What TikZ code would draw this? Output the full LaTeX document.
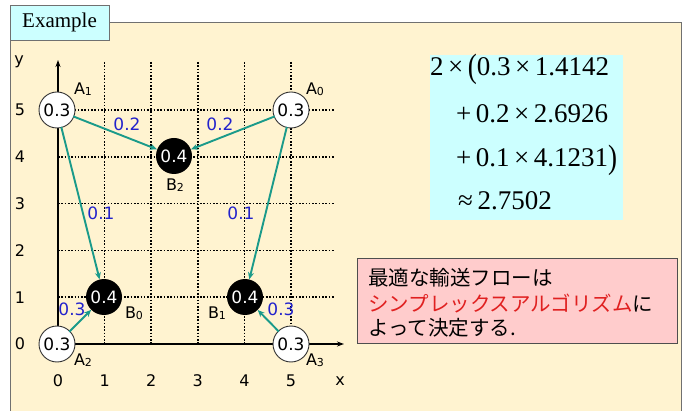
\documentclass[tikz,border=0pt]{standalone}
\usepackage{fontspec}
\setmainfont{DejaVu Sans}
\newfontfamily\eqfont{Liberation Serif}
\newfontfamily\jpfont{Noto Sans CJK JP}
\usetikzlibrary{arrows.meta}
\definecolor{beige}{HTML}{FFF3D0}
\definecolor{lcyan}{HTML}{CCFFFF}
\definecolor{lpink}{HTML}{FFCCCC}
\definecolor{teal2}{HTML}{1A9A8A}
\definecolor{lblue}{HTML}{2222CC}
\definecolor{jred}{HTML}{E02020}
\definecolor{frame}{HTML}{707070}
\tikzset{
  wnode/.style={circle, draw=black!80, line width=0.9pt, fill=white, minimum size=36pt, inner sep=0pt, font=\fontsize{17}{17}\selectfont},
  bnode/.style={circle, fill=black, minimum size=36pt, inner sep=0pt, text=white, font=\fontsize{17}{17}\selectfont},
  flow/.style={draw=teal2, line width=1.9pt, -{Stealth[length=7pt,width=6pt]}, shorten <=-1pt},
  flab/.style={text=lblue, font=\fontsize{17}{17}\selectfont},
  nlab/.style={font=\fontsize{16}{16}\selectfont},
  tick/.style={font=\fontsize{16}{16}\selectfont},
  gridl/.style={line width=1.6pt, dash pattern=on 1.6pt off 1.7pt},
  eqline/.style={anchor=base west, inner sep=0pt, font=\eqfont\fontsize{27}{27}\selectfont},
  jpline/.style={anchor=base west, inner sep=0pt, font=\jpfont\fontsize{20.5}{20.5}\selectfont},
}
\newcommand{\sbs}[1]{\raisebox{-1.5pt}{\fontsize{11}{11}\selectfont #1}}
\begin{document}
\begin{tikzpicture}[x=1pt,y=-1pt]
\useasboundingbox (0,0) rectangle (687,411);
\fill[white] (0,0) rectangle (687,411);
% main panel
\fill[beige] (10,22) rectangle (681,412);
\draw[frame, line width=0.8pt] (10,412) -- (10,22) -- (681,22) -- (681,412);
% tab
\node[draw=frame, line width=0.8pt, fill=lcyan, minimum width=99pt, minimum height=35pt, inner sep=0pt,
      font=\eqfont\fontsize{21}{21}\selectfont] (tab) at (59.5,22.5) {Example};
% grid
\foreach \i in {1,...,5} {
  \draw[gridl] ({58+46.6*\i},62) -- ({58+46.6*\i},344);
  \draw[gridl] (58,{344-46.8*\i}) -- (335,{344-46.8*\i});
}
% axes
\draw[line width=1.5pt, -{Stealth[length=7pt,width=5pt]}] (58,344) -- (58,60);
\draw[line width=1.5pt, -{Stealth[length=7pt,width=5pt]}] (58,344) -- (344,344);
% tick labels
\foreach \i in {0,...,5} {
  \node[tick] (xt\i) at ({58+46.6*\i},381) {\i};
  \node[tick] (yt\i) at (20,{344-46.8*\i}) {\i};
}
\node[tick] (xlab) at (340,381) {x};
\node[tick] (ylab) at (19,62) {y};
% nodes
\node[wnode] (A1) at (57,110) {0.3};
\node[wnode] (A0) at (291,110) {0.3};
\node[wnode] (A2) at (57,344) {0.3};
\node[wnode] (A3) at (291,344) {0.3};
\node[bnode] (B2) at (174,156) {0.4};
\node[bnode] (B0) at (104,297) {0.4};
\node[bnode] (B1) at (245,297) {0.4};
% node labels
\node[nlab] (lA1) at (83,89) {A\sbs{1}};
\node[nlab] (lA0) at (315,89) {A\sbs{0}};
\node[nlab] (lB2) at (175,185) {B\sbs{2}};
\node[nlab] (lB0) at (134,313) {B\sbs{0}};
\node[nlab] (lB1) at (217,313) {B\sbs{1}};
\node[nlab] (lA2) at (83,360) {A\sbs{2}};
\node[nlab] (lA3) at (315,360) {A\sbs{3}};
% flows
\draw[flow] (A1) -- (B2);
\draw[flow] (A0) -- (B2);
\draw[flow] (A1) -- (B0);
\draw[flow] (A0) -- (B1);
\draw[flow] (A2) -- (B0);
\draw[flow] (A3) -- (B1);
% flow labels
\node[flab] (f1) at (127,124) {0.2};
\node[flab] (f2) at (220,124) {0.2};
\node[flab] (f3) at (101,213) {0.1};
\node[flab] (f4) at (241,213) {0.1};
\node[flab] (f5) at (72,309) {0.3};
\node[flab] (f6) at (281,309) {0.3};
% equation box
\fill[lcyan] (430,55) rectangle (623,220);
\node[eqline] (e1) at (430,76) {2\,×\,\raisebox{-2pt}{\scalebox{1}[1.25]{(}}0.3\,×\,1.4142};
\node[eqline] (e2) at (456,123) {+\,0.2\,×\,2.6926};
\node[eqline] (e3) at (456,167) {+\,0.1\,×\,4.1231\raisebox{-2pt}{\scalebox{1}[1.25]{)}}};
\node[eqline] (e4) at (458,210) {≈\,2.7502};
% pink box
\draw[fill=lpink, draw=frame!70!black, line width=1pt] (357,259) rectangle (677,343);
\node[jpline] (j1) at (368,285) {最適な輸送フローは};
\node[jpline] (j2) at (368,311) {\textcolor{jred}{シンプレックスアルゴリズム}に};
\node[jpline] (j3) at (368,335) {よって決定する.};
\end{tikzpicture}
\end{document}
